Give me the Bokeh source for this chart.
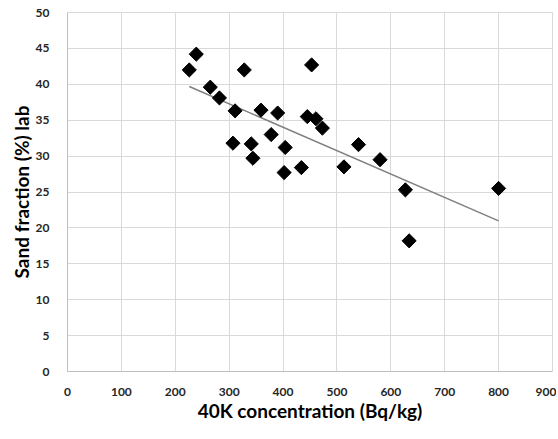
import math
import numpy as np
from bokeh.plotting import figure
from bokeh.models import Range1d, FixedTicker
from bokeh.embed import file_html
from bokeh.resources import INLINE

# data
k40_conc = [226, 239, 328, 453, 265, 282, 311, 359, 390, 445, 461, 473,
            378, 307, 341, 404, 344, 402, 434, 513, 540, 580, 627, 634, 800]
sand_frac = [42.0, 44.2, 42.0, 42.7, 39.6, 38.1, 36.3, 36.4, 36.0, 35.5, 35.2, 33.9,
             33.0, 31.8, 31.7, 31.2, 29.7, 27.7, 28.4, 28.5, 31.6, 29.5, 25.3, 18.2, 25.5]
trend_slope = -0.0326
trend_intercept = 47.06
x_ticks = [0, 100, 200, 300, 400, 500, 600, 700, 800, 900]
y_ticks = [0, 5, 10, 15, 20, 25, 30, 35, 40, 45, 50]

p = figure(width=556, height=437, output_backend="svg", toolbar_location=None,
           x_range=Range1d(0, 900), y_range=Range1d(0, 50),
           min_border_left=67, min_border_right=4, min_border_top=12, min_border_bottom=66)

p.background_fill_color = "white"
p.border_fill_color = "white"
p.outline_line_color = "#d9d9d9"

grid_color = "#d9d9d9"
p.xgrid.grid_line_color = grid_color
p.ygrid.grid_line_color = grid_color
p.xgrid.grid_line_width = 1
p.ygrid.grid_line_width = 1

for ax in (p.xaxis, p.yaxis):
    ax.axis_line_color = "#bfbfbf"
    ax.major_tick_line_color = None
    ax.minor_tick_line_color = None
    ax.major_label_text_font = "Lato"
    ax.major_label_text_font_style = "bold"
    ax.major_label_text_font_size = "12px"
    ax.major_label_text_color = "#262626"
    ax.axis_label_text_font = "Lato"
    ax.axis_label_text_font_style = "bold"
    ax.axis_label_text_font_size = "19px"
    ax.axis_label_text_color = "#000000"

p.xaxis.ticker = FixedTicker(ticks=x_ticks)
p.yaxis.ticker = FixedTicker(ticks=y_ticks)
p.xaxis.major_label_standoff = 10
p.yaxis.major_label_standoff = 12
p.xaxis.axis_label_standoff = 0
p.yaxis.axis_label_standoff = 0
p.xaxis.axis_label = "40K concentration (Bq/kg)"
p.yaxis.axis_label = "Sand fraction (%) lab"

# trend line across the data range
tx = np.array([min(k40_conc), max(k40_conc)], dtype=float)
ty = trend_slope * tx + trend_intercept
p.line(tx, ty, line_color="#808080", line_width=1.5)

p.scatter(k40_conc, sand_frac, marker="square", size=10, angle=math.pi / 4,
          fill_color="black", line_color="black")

open("out.html", "w").write(file_html(p, INLINE))
